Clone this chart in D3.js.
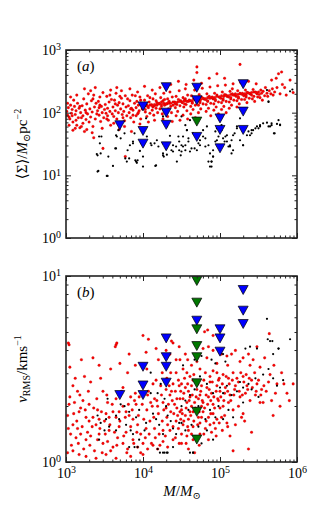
<!DOCTYPE html>
<html lang="en">
<head>
    <meta charset="utf-8">
    <title>Surface density and velocity dispersion vs mass</title>
    <style>
        body { margin: 0; background: #fff; }
        svg { display: block; font-family: "Liberation Serif", "DejaVu Serif", serif; }
        .tick line { stroke: #222; }
        .tick text { font-size: 14px; fill: #000; font-family: "Liberation Serif", "DejaVu Serif", serif; }
        .domain { display: none; }
    </style>
    <script src="https://cdn.jsdelivr.net/npm/d3@7"></script>
</head>
<body>
    <svg></svg>
    <script>
        // log10(M), log10(<Sigma>)
        var sigmaRed = [
            [3.01,2.02],[3.02,1.96],[3.03,2.08],[3.05,1.90],[3.06,2.12],[3.07,1.99],[3.08,2.05],[3.09,1.85],[3.04,1.93],
            [3.11,2.10],[3.12,1.97],[3.13,2.03],[3.14,1.80],[3.15,2.15],[3.16,1.92],[3.17,2.07],[3.18,1.76],[3.19,2.00],[3.13,1.88],
            [3.21,2.11],[3.22,1.95],[3.23,2.22],[3.24,1.70],[3.25,2.04],[3.26,1.89],[3.27,2.14],[3.28,1.98],[3.29,2.30],[3.22,1.83],[3.27,1.73],
            [3.31,2.06],[3.32,1.93],[3.33,2.19],[3.34,2.01],[3.35,1.78],[3.36,2.28],[3.37,2.09],[3.38,1.90],[3.39,2.15],[3.32,2.35],[3.36,1.60],[3.34,1.68],
            [3.41,2.03],[3.42,2.18],[3.43,1.96],[3.44,2.25],[3.45,1.86],[3.46,2.10],[3.47,2.00],[3.48,2.32],[3.49,1.92],[3.43,2.08],[3.47,1.75],[3.48,1.43],
            [3.51,2.13],[3.52,1.99],[3.53,2.26],[3.54,2.07],[3.55,1.88],[3.56,2.17],[3.57,2.02],[3.58,1.80],[3.59,2.21],[3.54,1.95],[3.58,2.36],
            [3.61,2.09],[3.62,1.94],[3.63,2.20],[3.64,2.03],[3.65,2.31],[3.66,1.90],[3.67,2.12],[3.68,2.00],[3.69,2.16],[3.62,1.83],[3.66,2.40],[3.69,1.73],
            [3.71,2.06],[3.72,2.23],[3.73,1.97],[3.74,2.14],[3.75,2.02],[3.76,1.87],[3.77,2.27],[3.78,2.09],[3.79,1.95],[3.72,2.35],[3.76,1.78],[3.77,1.30],
            [3.81,2.11],[3.82,2.00],[3.83,2.19],[3.84,1.92],[3.85,2.07],[3.86,2.28],[3.87,2.04],[3.88,1.85],[3.89,2.15],[3.83,2.38],[3.87,1.96],[3.85,1.70],
            [3.91,2.08],[3.92,2.18],[3.93,1.98],[3.94,2.12],[3.95,2.03],[3.96,2.25],[3.97,1.90],[3.98,2.14],[3.99,2.06],[3.93,2.33],[3.96,1.82],[3.91,1.95],
            [4.01,2.10],[4.02,2.20],[4.03,2.01],[4.04,2.14],[4.05,1.94],[4.06,2.27],[4.07,2.08],[4.08,2.17],[4.09,1.99],[4.02,2.42],[4.05,2.12],[4.07,1.85],[4.09,2.24],[4.03,2.05],
            [4.11,2.13],[4.12,2.04],[4.13,2.22],[4.14,1.96],[4.15,2.11],[4.16,2.30],[4.17,2.07],[4.18,2.16],[4.19,2.00],[4.12,2.36],[4.15,1.88],[4.17,2.19],[4.13,2.09],
            [4.21,2.15],[4.22,2.06],[4.23,2.24],[4.24,2.10],[4.25,1.98],[4.26,2.19],[4.27,2.31],[4.28,2.12],[4.29,2.03],[4.22,2.40],[4.26,1.90],[4.24,2.17],[4.28,2.21],
            [4.31,2.14],[4.32,2.22],[4.33,2.06],[4.34,2.18],[4.35,2.33],[4.36,2.10],[4.37,2.00],[4.38,2.25],[4.39,2.12],[4.32,1.94],[4.36,2.45],[4.34,2.15],[4.38,1.86],
            [4.41,2.17],[4.42,2.08],[4.43,2.26],[4.44,2.13],[4.45,2.02],[4.46,2.21],[4.47,2.35],[4.48,2.11],[4.49,2.19],[4.43,1.95],[4.46,2.50],[4.42,2.14],[4.48,1.88],
            [4.51,2.16],[4.52,2.24],[4.53,2.09],[4.54,2.20],[4.55,2.38],[4.56,2.13],[4.57,2.03],[4.58,2.28],[4.59,2.18],[4.52,1.96],[4.56,2.45],[4.54,2.14],[4.58,1.90],[4.55,2.22],
            [4.61,2.19],[4.62,2.10],[4.63,2.27],[4.64,2.15],[4.65,2.05],[4.66,2.23],[4.67,2.36],[4.68,2.12],[4.69,2.21],[4.62,1.98],[4.66,2.52],[4.64,2.17],[4.68,1.92],
            [4.71,2.20],[4.72,2.12],[4.73,2.29],[4.74,2.16],[4.75,2.06],[4.76,2.25],[4.77,2.39],[4.78,2.14],[4.79,2.22],[4.72,2.00],[4.76,2.47],[4.70,2.73],[4.70,2.64],[4.74,2.18],
            [4.81,2.21],[4.82,2.13],[4.83,2.30],[4.84,2.18],[4.85,2.07],[4.86,2.26],[4.87,2.41],[4.88,2.15],[4.89,2.24],[4.82,2.02],[4.86,2.55],[4.84,2.19],[4.88,1.95],
            [4.91,2.22],[4.92,2.14],[4.93,2.31],[4.94,2.19],[4.95,2.09],[4.96,2.28],[4.97,2.43],[4.98,2.17],[4.99,2.25],[4.92,2.04],[4.96,2.62],[4.94,2.21],[4.98,1.98],
            [5.01,2.23],[5.02,2.16],[5.03,2.33],[5.04,2.20],[5.05,2.10],[5.06,2.29],[5.07,2.44],[5.08,2.18],[5.09,2.26],[5.02,2.05],[5.06,2.55],[5.04,2.22],[5.08,2.00],
            [5.11,2.25],[5.12,2.17],[5.13,2.34],[5.14,2.22],[5.15,2.12],[5.16,2.30],[5.17,2.46],[5.18,2.20],[5.19,2.28],[5.12,2.07],[5.16,2.38],[5.14,2.24],
            [5.21,2.26],[5.22,2.19],[5.23,2.35],[5.24,2.23],[5.25,2.14],[5.26,2.31],[5.27,2.48],[5.28,2.21],[5.29,2.29],[5.22,2.09],[5.26,2.77],[5.24,2.25],
            [5.31,2.27],[5.32,2.21],[5.33,2.36],[5.34,2.25],[5.35,2.16],[5.36,2.32],[5.37,2.50],[5.38,2.23],[5.39,2.30],[5.34,2.28],
            [5.41,2.28],[5.42,2.22],[5.43,2.37],[5.44,2.26],[5.45,2.18],[5.46,2.33],[5.47,2.46],[5.48,2.30],[5.49,2.25],
            [5.51,2.29],[5.52,2.24],[5.53,2.36],[5.54,2.31],[5.55,2.20],[5.56,2.34],[5.58,2.27],[5.59,2.40],
            [5.61,2.31],[5.62,2.26],[5.64,2.35],[5.66,2.30],[5.68,2.38],[5.69,2.28],[5.67,2.52],
            [5.71,2.33],[5.73,2.55],[5.74,2.40],[5.76,2.62],[5.78,2.30],[5.80,2.65],
            [5.81,2.45],[5.84,2.40],[5.86,2.28],[5.91,2.52],[5.95,2.32],
            [3.20,1.78],[3.12,1.75],[3.09,1.72],
            [3.02,2.15],[3.04,1.80],[3.06,2.25],[3.08,1.95],[3.10,2.20],[3.14,2.28],[3.18,2.10],[3.20,1.92],[3.24,2.38],[3.26,2.00],
            [3.30,1.85],[3.35,2.22],[3.38,2.40],[3.40,1.98],[3.44,2.12],[3.50,2.05],[3.53,1.90],[3.57,2.28],[3.60,1.98],[3.64,2.14],
            [3.70,2.26],[3.74,1.92],[3.80,2.22],[3.84,2.06],[3.90,2.27],[3.94,2.00],[3.97,2.20],
            // the dense ridge
            [4.00,2.10],[4.03,2.11],[4.06,2.10],[4.09,2.12],[4.12,2.11],[4.15,2.13],[4.18,2.12],[4.21,2.14],[4.24,2.13],[4.27,2.15],
            [4.30,2.14],[4.33,2.16],[4.36,2.15],[4.39,2.17],[4.42,2.16],[4.45,2.17],[4.48,2.18],[4.51,2.17],[4.54,2.19],[4.57,2.18],
            [4.60,2.20],[4.63,2.19],[4.66,2.21],[4.69,2.20],[4.72,2.22],[4.75,2.21],[4.78,2.23],[4.81,2.22],[4.84,2.24],[4.87,2.23],
            [4.90,2.25],[4.93,2.24],[4.96,2.26],[4.99,2.25],[5.02,2.27],[5.05,2.26],[5.08,2.28],[5.11,2.27],[5.14,2.29],[5.17,2.28],
            [5.20,2.30],[5.23,2.29],[5.26,2.30],[5.29,2.31],[5.32,2.30],[5.35,2.32],[5.38,2.31],[5.41,2.32],[5.44,2.33],[5.47,2.32],[5.50,2.33]
        ];
        var sigmaBlack = [
            [3.40,1.34],[3.42,1.07],[3.53,0.99],[3.55,1.30],[3.46,1.62],[3.44,1.51],[3.61,1.15],[3.64,1.43],[3.66,1.62],[3.68,1.72],
            [3.77,1.27],[3.79,1.22],[3.83,1.48],[3.87,1.54],[3.90,1.24],[3.92,1.20],[3.96,1.39],[3.98,1.51],[4.00,1.14],[4.05,1.62],
            [4.11,1.48],[4.16,1.15],[4.18,1.56],[4.20,1.46],[4.26,1.51],[4.26,1.35],[4.27,1.30],[4.31,1.33],[4.31,1.78],[4.35,1.63],
            [4.37,1.40],[4.39,1.48],[4.44,1.22],[4.46,1.62],[4.50,1.38],[4.52,1.46],[4.55,1.48],[4.57,1.72],[4.59,1.59],[4.63,1.43],
            [4.65,1.67],[4.70,1.40],[4.72,1.51],[4.74,1.56],[4.78,1.72],[4.81,1.59],[4.83,1.78],[4.85,1.48],[4.87,1.14],[4.89,1.22],
            [4.91,1.30],[4.94,1.70],[4.96,1.56],[4.98,1.62],[5.00,1.48],[5.02,1.72],[5.04,1.59],[5.06,1.54],[5.09,1.64],[5.11,1.46],
            [5.13,1.48],[5.15,1.56],[5.17,1.40],[5.19,1.67],[5.22,1.78],[5.26,1.56],[5.30,1.48],[5.35,1.64],[5.37,1.70],[5.41,1.67],
            [5.43,1.72],[5.48,1.78],[5.50,1.75],[5.52,1.80],[5.56,1.83],[5.61,1.84],[5.63,2.18],[5.65,1.78],[5.67,1.80],[5.70,1.67],
            [5.74,1.82],[5.78,1.81],[5.91,2.34],[5.94,2.37],
            [4.50,1.94],[4.55,1.80],[4.57,1.72],[4.52,1.62],[4.50,1.48],[4.55,1.40],[4.59,1.54],[4.61,1.38],[4.67,1.43],[4.74,1.48],
            [4.78,1.62],[4.81,1.46],[4.87,1.35],[4.89,1.22],[4.89,1.14],[4.91,1.40],[4.94,1.54],[4.96,1.75],[5.02,1.80],[5.07,1.62],
            [5.09,1.54],[5.13,1.46],[5.15,1.35],[5.17,1.64],[5.22,1.75],[5.26,1.91],[5.30,1.48],[5.39,1.64],[5.41,1.72],[5.46,1.75],
            [5.52,1.78],[5.63,1.78],[5.67,1.83],[5.71,1.67],[5.63,2.17],[5.78,1.80],[5.76,1.88],[5.61,2.36],[4.61,1.88],[4.85,1.22],[4.91,1.30],
            [3.41,1.32],[3.41,1.06],[3.54,0.99],[3.45,1.35],[3.43,1.62],[3.65,1.64],[3.65,1.43],[3.71,1.59],[3.76,1.67],[3.80,1.40],
            [3.82,1.27],[3.87,1.51],[3.89,1.67],[3.91,1.22],[3.93,1.24],[4.00,1.30],[4.04,1.91],[4.10,1.51],[4.15,1.51],[4.17,1.16],
            [4.26,1.32],[4.30,1.43],[4.32,1.48],[4.39,1.38],[4.43,1.46],[4.47,1.54],[4.47,1.40],[4.49,1.32],[4.26,1.94]
        ];
        // triangles: M, <Sigma>
        var sigmaBlue = [[5e3,63],[1e4,126],[1e4,51],[1e4,32],[2e4,255],[2e4,100],[2e4,64],[2e4,29],
            [5e4,250],[5e4,158],[5e4,41],[1e5,81],[1e5,53],[1e5,27],[2e5,285],[2e5,104],[2e5,53]];
        var sigmaGreen = [[5e4,72]];

        // log10(M), log10(v_RMS)
        var vrmsRed = [
            [3.04,0.63],[3.65,0.63],[3.35,0.56],[3.43,0.52],[3.24,0.46],[3.32,0.43],[3.09,0.41],[3.15,0.38],[3.48,0.38],[3.74,0.40],
            [3.80,0.48],[3.82,0.58],[4.04,0.59],[4.17,0.61],[4.30,0.60],[4.39,0.64],[4.47,0.62],[4.43,0.55],[4.36,0.48],[4.43,0.48],
            [4.13,0.42],[4.17,0.44],[4.23,0.41],[4.30,0.39],[4.34,0.41],[4.39,0.42],[4.47,0.41],[4.49,0.38],[3.84,0.35],[3.89,0.33],
            [3.91,0.31],[3.95,0.35],[4.06,0.36],[4.10,0.32],[4.15,0.34],[4.19,0.30],[4.26,0.32],[4.30,0.29],[4.36,0.27],[4.41,0.31],
            [4.45,0.25],[4.49,0.23],[4.43,0.22],[4.39,0.19],[4.32,0.20],[4.26,0.17],[4.21,0.15],[4.15,0.18],[4.08,0.15],[4.04,0.18],
            [3.97,0.15],[3.93,0.20],[3.87,0.23],[3.82,0.25],[3.78,0.27],[3.74,0.30],[3.69,0.27],[3.65,0.24],[3.61,0.27],[3.56,0.24],
            [3.52,0.26],[3.50,0.22],[3.43,0.23],[3.39,0.20],[3.35,0.24],[3.30,0.22],[3.26,0.24],[3.19,0.29],[3.17,0.27],[3.15,0.18],
            [3.09,0.20],[3.02,0.25],[3.06,0.15],[3.13,0.13],[3.19,0.15],[3.26,0.12],[3.32,0.14],[3.41,0.12],[3.48,0.10],[3.54,0.11],
            [3.61,0.08],[3.67,0.13],[3.74,0.10],[3.80,0.07],[3.87,0.12],[3.93,0.08],[4.00,0.10],[4.06,0.07],[4.13,0.09],[4.19,0.07],
            [4.26,0.11],[4.32,0.08],[4.39,0.12],[4.47,0.10],[3.09,0.06],[3.02,0.05],[3.17,0.04],[3.26,0.03],[3.39,0.02],[3.52,0.04],
            [3.65,0.02],[3.84,0.03],[4.00,0.04],[3.43,0.15],[3.56,0.17],[3.69,0.19],[3.78,0.16],[3.30,0.31],[3.41,0.28],[3.54,0.32],
            [3.65,0.34],[3.22,0.33],[3.11,0.32],[3.04,0.31],[3.03,0.64],[3.66,0.64],[3.64,0.62],[4.00,0.68],[4.07,0.66],[4.37,0.65],
            [4.80,0.70],[4.84,0.71],[4.91,0.68],[5.64,0.69],
            [5.48,0.62],[5.37,0.58],[5.15,0.58],[5.09,0.57],[5.26,0.54],[5.39,0.52],[5.52,0.51],[5.65,0.47],[5.74,0.42],[5.87,0.37],
            [5.95,0.42],[5.56,0.32],[5.69,0.25],[5.41,0.16],[5.37,0.07],[5.17,0.06],[5.13,0.14],[5.28,0.24],
            [4.52,0.50],[4.57,0.48],[4.61,0.46],[4.65,0.44],[4.74,0.50],[4.81,0.48],[4.87,0.46],[4.91,0.49],[4.98,0.44],[5.04,0.47],
            [5.11,0.45],[5.17,0.48],[5.24,0.43],[5.30,0.46],[5.35,0.41],[5.41,0.44],[5.48,0.42],[5.54,0.39],[4.50,0.42],[4.55,0.40],
            [4.59,0.38],[4.63,0.41],[4.70,0.39],[4.76,0.41],[4.83,0.40],[4.89,0.37],[4.96,0.41],[5.00,0.38],[5.07,0.40],[5.13,0.36],
            [5.19,0.39],[5.26,0.35],[5.33,0.37],[5.39,0.33],[5.46,0.36],[5.52,0.32],[4.52,0.34],[4.57,0.32],[4.61,0.35],[4.67,0.32],
            [4.72,0.34],[4.78,0.32],[4.85,0.35],[4.91,0.31],[4.98,0.33],[5.04,0.30],[5.11,0.32],[5.17,0.28],[5.24,0.30],[5.30,0.26],
            [4.50,0.28],[4.55,0.25],[4.59,0.23],[4.65,0.27],[4.72,0.24],[4.78,0.27],[4.85,0.24],[4.91,0.26],[4.96,0.23],[5.02,0.24],
            [5.09,0.21],[4.52,0.20],[4.59,0.17],[4.65,0.19],[4.74,0.21],[4.81,0.18],[4.87,0.20],[4.94,0.18],[4.57,0.14],[4.65,0.12],
            [4.74,0.15],[4.89,0.16],[4.50,0.10],[4.59,0.07],[4.67,0.05],[4.48,0.55],[4.63,0.52],[4.70,0.54],[4.83,0.56],[4.96,0.53],
            [5.02,0.58],[4.91,0.60],[4.78,0.61],[4.55,0.58],[4.74,0.36],[4.87,0.43],[4.96,0.48],[4.63,0.30],[4.76,0.30],[5.00,0.29],
            [4.31,0.45],[4.35,0.36],[4.38,0.33],[4.42,0.38],[4.44,0.29],[4.46,0.44],[4.48,0.34],[4.51,0.26],[4.53,0.37],[4.54,0.45],
            [4.56,0.29],[4.58,0.42],[4.60,0.33],[4.62,0.25],[4.64,0.36],[4.66,0.47],[4.68,0.29],[4.69,0.35],[4.71,0.42],[4.73,0.27],
            [4.75,0.38],[4.77,0.33],[4.79,0.44],[4.80,0.29],[4.82,0.36],[4.84,0.31],[4.86,0.39],[4.88,0.33],[4.90,0.43],[4.92,0.35],
            [4.93,0.29],[4.95,0.38],[4.97,0.34],[4.99,0.45],[5.01,0.35],[5.03,0.42],[5.05,0.33],[5.06,0.37],[5.08,0.46],[5.10,0.38],
            [5.12,0.42],[5.14,0.33],[5.16,0.44],[5.18,0.36],[5.20,0.41],[5.22,0.45],[5.25,0.38],[5.27,0.48],[5.29,0.36],[5.31,0.43],
            [5.34,0.47],[5.36,0.39],[5.38,0.45],[5.42,0.40],[5.45,0.48],[5.47,0.38],[5.50,0.44],[5.53,0.36],[5.57,0.41],[5.60,0.38],
            [5.63,0.43],[5.67,0.33],[5.72,0.37],[5.78,0.30],[5.83,0.42],[5.90,0.33],
            [3.03,0.18],[3.05,0.35],[3.07,0.09],[3.10,0.26],[3.12,0.45],[3.14,0.22],[3.16,0.10],[3.18,0.36],[3.21,0.19],[3.23,0.07],
            [3.25,0.28],[3.28,0.16],[3.29,0.38],[3.31,0.09],[3.34,0.19],[3.36,0.29],[3.37,0.06],[3.40,0.34],[3.44,0.18],[3.46,0.27],
            [3.47,0.05],[3.51,0.15],[3.53,0.36],[3.57,0.20],[3.58,0.06],[3.60,0.31],[3.63,0.16],[3.66,0.09],[3.70,0.22],[3.72,0.38],
            [3.75,0.14],[3.77,0.24],[3.79,0.05],[3.81,0.31],[3.84,0.19],[3.86,0.28],[3.88,0.10],[3.90,0.37],[3.92,0.16],[3.94,0.25],
            [3.97,0.05],[3.99,0.31],[4.01,0.23],[4.03,0.13],[4.05,0.28],[4.07,0.38],[4.09,0.22],[4.11,0.10],[4.12,0.30],[4.14,0.24],
            [4.16,0.13],[4.18,0.33],[4.20,0.26],[4.22,0.09],[4.24,0.36],[4.25,0.22],[4.27,0.28],[4.29,0.14],[4.31,0.24],[4.33,0.31],
            [4.35,0.17],[4.37,0.38],[4.40,0.26],[4.42,0.13],[4.44,0.34],[4.46,0.18],[4.48,0.27],[4.50,0.15],[4.53,0.22],[4.56,0.10],
            [4.58,0.19],[4.61,0.27],[4.63,0.15],[4.66,0.22],[4.69,0.12],[4.71,0.20],[4.73,0.09],[4.76,0.24],[4.79,0.15],[4.82,0.22],
            [4.85,0.12],[4.88,0.26],[4.92,0.21],[4.95,0.14],[4.99,0.21],[5.03,0.17],[5.06,0.25],[5.10,0.19],[5.20,0.20],[5.32,0.22],
            [3.05,0.51],[3.20,0.55],[3.45,0.45],[3.58,0.50],[3.70,0.53],[3.90,0.52],[4.05,0.50],[4.20,0.55],[4.25,0.48],[4.35,0.58],
            [4.58,0.55],[4.68,0.63],[4.85,0.62],[5.10,0.52],[5.20,0.60],[5.30,0.56],[5.43,0.55],[5.58,0.56],[5.70,0.52],[5.80,0.48]
        ];
        var vrmsBlack = [
            [3.54,0.34],[3.41,0.25],[3.45,0.21],[3.43,0.12],[3.56,0.19],[3.65,0.25],[3.69,0.23],[3.71,0.31],[3.76,0.30],[3.82,0.27],
            [3.91,0.24],[3.95,0.28],[3.78,0.20],[3.84,0.17],[3.87,0.15],[3.82,0.08],[3.89,0.08],[3.93,0.08],[3.95,0.12],[4.02,0.17],
            [4.04,0.21],[4.10,0.48],[4.10,0.37],[4.13,0.26],[4.17,0.23],[4.21,0.20],[4.26,0.15],[4.28,0.05],[4.32,0.05],[4.19,0.07],
            [4.28,0.34],[4.30,0.30],[4.32,0.25],[4.36,0.22],[4.39,0.18],[4.43,0.15],[4.39,0.08],[4.47,0.21],[4.23,0.42],[4.19,0.37],
            [3.65,0.17],[3.50,0.17],[3.52,0.23],[4.22,0.05],[4.26,0.05],[4.31,0.05],[4.61,0.05],[4.65,0.05],
            [4.52,0.52],[4.67,0.55],[4.76,0.57],[4.89,0.55],[4.94,0.53],[5.07,0.54],[5.04,0.58],[5.33,0.61],[5.39,0.62],[5.48,0.61],
            [5.65,0.65],[5.76,0.61],[5.63,0.50],[5.56,0.47],[5.46,0.45],[5.37,0.42],[5.30,0.40],[5.26,0.43],[5.22,0.38],[5.15,0.36],
            [5.09,0.41],[5.04,0.37],[5.00,0.40],[4.91,0.37],[4.83,0.42],[4.74,0.46],[4.67,0.39],[4.61,0.36],[4.55,0.33],[4.50,0.30],
            [4.59,0.28],[4.72,0.30],[4.87,0.28],[4.98,0.30],[5.11,0.28],[5.17,0.24],[5.04,0.23],[4.94,0.24],[4.81,0.23],[4.72,0.19],
            [4.63,0.20],[4.55,0.17],[4.50,0.21],[4.83,0.17],[4.91,0.12],[4.76,0.10],[4.65,0.05],[5.30,0.32],[5.41,0.39],[5.50,0.35],
            [5.74,0.41],[5.69,0.45],[5.61,0.77],[5.62,0.66],[5.68,0.65],[5.76,0.61],[5.69,0.58],[5.91,0.66],[5.82,0.44]
        ];
        // triangles: M, v_RMS
        var vrmsBlue = [[5e3,2.29],[1e4,3.25],[1e4,2.58],[1e4,2.29],[2e4,4.62],[2e4,3.66],[2e4,3.25],[2e4,2.67],
            [5e4,5.75],[1e5,5.17],[1e5,4.62],[1e5,3.92],[2e5,8.41],[2e5,6.51],[2e5,5.52]];
        var vrmsGreen = [[5e4,9.4],[5e4,7.19],[5e4,5.17],[5e4,4.2],[5e4,3.66],[5e4,2.65],[5e4,1.86],[5e4,1.32]];

        var xTicks = [1e3, 1e4, 1e5, 1e6];
        var sigmaTicks = [1, 10, 100, 1000];
        var vrmsTicks = [1, 10];

        var W = 330, H = 514;
        var left = 66, right = 297;

        var svg = d3.select("svg").attr("width", W).attr("height", H);
        svg.append("rect").attr("width", W).attr("height", H).attr("fill", "#fff");

        var x = d3.scaleLog().domain([1e3, 1e6]).range([left, right]);

        function minors(lo, hi) {
            var out = [];
            for (var d = lo; d < hi; d *= 10)
                for (var k = 2; k < 10; k++) out.push(d * k);
            return out;
        }

        function powLabels(sel) {
            sel.attr("font-family", null);
            sel.selectAll(".tick text").each(function (d) {
                var e = Math.round(Math.log10(d));
                var t = d3.select(this).text("10");
                t.append("tspan").attr("dy", "-0.45em").attr("font-size", "10px").text(e);
            });
        }

        var tri = "M-5,-4.5L5,-4.5L0,4.5Z";

        function panel(id, top, bottom, yDomain, yTicks, red, black, blue, green, letter, xLabels) {
            var y = d3.scaleLog().domain(yDomain).range([bottom, top]);
            var g = svg.append("g");

            g.append("clipPath").attr("id", id)
                .append("rect").attr("x", left).attr("y", top)
                .attr("width", right - left).attr("height", bottom - top);
            var plot = g.append("g").attr("clip-path", "url(#" + id + ")");

            plot.selectAll(".red").data(red).enter().append("circle")
                .attr("cx", function (d) { return x(Math.pow(10, d[0])); })
                .attr("cy", function (d) { return y(Math.pow(10, d[1])); })
                .attr("r", 1.3).attr("fill", "#ff0000").attr("stroke", "#b00000").attr("stroke-width", 0.3);
            plot.selectAll(".blk").data(black).enter().append("circle")
                .attr("cx", function (d) { return x(Math.pow(10, d[0])); })
                .attr("cy", function (d) { return y(Math.pow(10, d[1])); })
                .attr("r", 1.1).attr("fill", "#000");
            plot.selectAll(".blue").data(blue).enter().append("path")
                .attr("d", tri)
                .attr("transform", function (d) { return "translate(" + x(d[0]) + "," + y(d[1]) + ")"; })
                .attr("fill", "#0000ff").attr("stroke", "#000").attr("stroke-width", 0.7);
            plot.selectAll(".green").data(green).enter().append("path")
                .attr("d", tri)
                .attr("transform", function (d) { return "translate(" + x(d[0]) + "," + y(d[1]) + ")"; })
                .attr("fill", "#007700").attr("stroke", "#000").attr("stroke-width", 0.7);

            // major and minor ticks on all four sides, pointing inward
            var bx = g.append("g").attr("transform", "translate(0," + bottom + ")")
                .call(d3.axisBottom(x).tickValues(xTicks).tickSize(-5).tickPadding(6)
                    .tickFormat(xLabels ? null : ""));
            if (xLabels) powLabels(bx);
            g.append("g").attr("transform", "translate(0," + bottom + ")")
                .call(d3.axisBottom(x).tickValues(minors(1e3, 1e6)).tickSize(-2.5).tickFormat(""));
            g.append("g").attr("transform", "translate(0," + top + ")")
                .call(d3.axisTop(x).tickValues(xTicks).tickSize(-5).tickFormat(""));
            g.append("g").attr("transform", "translate(0," + top + ")")
                .call(d3.axisTop(x).tickValues(minors(1e3, 1e6)).tickSize(-2.5).tickFormat(""));

            var ly = g.append("g").attr("transform", "translate(" + left + ",0)")
                .call(d3.axisLeft(y).tickValues(yTicks).tickSize(-5).tickPadding(5));
            powLabels(ly);
            g.append("g").attr("transform", "translate(" + left + ",0)")
                .call(d3.axisLeft(y).tickValues(minors(yDomain[0], yDomain[1])).tickSize(-2.5).tickFormat(""));
            g.append("g").attr("transform", "translate(" + right + ",0)")
                .call(d3.axisRight(y).tickValues(yTicks).tickSize(-5).tickFormat(""));
            g.append("g").attr("transform", "translate(" + right + ",0)")
                .call(d3.axisRight(y).tickValues(minors(yDomain[0], yDomain[1])).tickSize(-2.5).tickFormat(""));

            g.append("rect").attr("x", left).attr("y", top)
                .attr("width", right - left).attr("height", bottom - top)
                .attr("fill", "none").attr("stroke", "#222").attr("stroke-width", 1.6);

            var lab = g.append("text").attr("x", left + 11).attr("y", top + 21)
                .attr("font-size", "15px");
            lab.append("tspan").text("(");
            lab.append("tspan").attr("font-style", "italic").text(letter);
            lab.append("tspan").text(")");
            return y;
        }

        panel("clipA", 50, 238, [1, 1000], sigmaTicks, sigmaRed, sigmaBlack, sigmaBlue, sigmaGreen, "a", false);
        panel("clipB", 276, 462, [1, 10], vrmsTicks, vrmsRed, vrmsBlack, vrmsBlue, vrmsGreen, "b", true);

        // axis titles
        var ya = svg.append("text").attr("transform", "translate(27,144) rotate(-90)")
            .attr("text-anchor", "middle").attr("font-size", "15px");
        ya.append("tspan").text("\u27e8\u03a3\u27e9/");
        ya.append("tspan").attr("font-style", "italic").text("M");
        ya.append("tspan").attr("font-size", "10px").attr("dy", "3").text("\u2299");
        ya.append("tspan").attr("dy", "-3").text("pc");
        ya.append("tspan").attr("font-size", "10px").attr("dy", "-6").text("\u22122");

        var yb = svg.append("text").attr("transform", "translate(27,369) rotate(-90)")
            .attr("text-anchor", "middle").attr("font-size", "15px");
        yb.append("tspan").attr("font-style", "italic").text("v");
        yb.append("tspan").attr("font-size", "10px").attr("dy", "3").text("RMS");
        yb.append("tspan").attr("dy", "-3").text("/kms");
        yb.append("tspan").attr("font-size", "10px").attr("dy", "-6").text("\u22121");

        var xl = svg.append("text").attr("x", 182).attr("y", 496)
            .attr("text-anchor", "middle").attr("font-size", "15px");
        xl.append("tspan").attr("font-style", "italic").text("M");
        xl.append("tspan").text("/");
        xl.append("tspan").attr("font-style", "italic").text("M");
        xl.append("tspan").attr("font-size", "10px").attr("dy", "3").text("\u2299");
    </script>
</body>
</html>
